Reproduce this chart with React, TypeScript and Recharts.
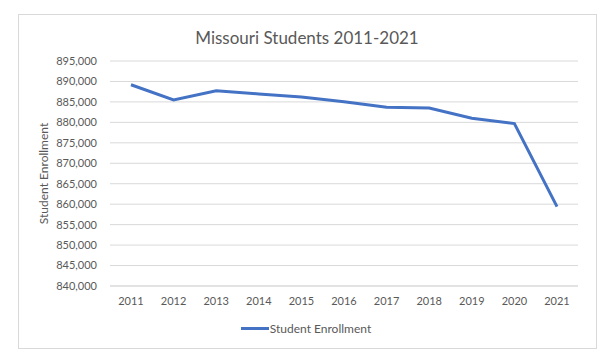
import { LineChart, Line, XAxis, YAxis, CartesianGrid, Legend } from 'recharts'

const years = ['2011', '2012', '2013', '2014', '2015', '2016', '2017', '2018', '2019', '2020', '2021']
const enrollment = [889200, 885500, 887750, 886950, 886200, 885050, 883700, 883500, 881000, 879700, 859400]
const yTicks = [840000, 845000, 850000, 855000, 860000, 865000, 870000, 875000, 880000, 885000, 890000, 895000]

const data = years.map((year, i) => ({ year, value: enrollment[i] }))

const FONT = 'Lato, "Open Sans", sans-serif'
const TEXT = '#595959'
const BLUE = '#4472C4'

function YLabel({ viewBox }: any) {
  const cy = viewBox.y + viewBox.height / 2
  return (
    <text
      x={43}
      y={cy}
      transform={`rotate(-90, 43, ${cy})`}
      textAnchor="middle"
      dominantBaseline="central"
      fill={TEXT}
      fontSize={12}
      fontFamily={FONT}
    >
      Student Enrollment
    </text>
  )
}

function LegendContent() {
  return (
    <div style={{ display: 'flex', justifyContent: 'center', alignItems: 'center', height: 20 }}>
      <span style={{ display: 'inline-block', width: 28, height: 3, background: BLUE }} />
      <span style={{ fontFamily: FONT, fontSize: 12, color: TEXT, marginLeft: 1 }}>Student Enrollment</span>
    </div>
  )
}

export default function App() {
  return (
    <div style={{ position: 'absolute', left: 0, top: 0, width: 612, height: 359, background: '#fff' }}>
      <div
        style={{
          position: 'absolute',
          left: 18,
          top: 14,
          width: 577,
          height: 333,
          border: '1px solid #d9d9d9',
        }}
      />
      <div
        style={{
          position: 'absolute',
          top: 26,
          left: 0,
          width: 614,
          textAlign: 'center',
          fontFamily: FONT,
          fontSize: 17,
          color: TEXT,
          lineHeight: '24px',
        }}
      >
        Missouri Students 2011-2021
      </div>
      <LineChart
        width={612}
        height={359}
        data={data}
        margin={{ top: 61, right: 34, bottom: 21, left: 0 }}
        style={{ position: 'absolute', left: 0, top: 0 }}
      >
        <CartesianGrid vertical={false} stroke="#d9d9d9" />
        <XAxis
          dataKey="year"
          height={32}
          padding={{ left: 21, right: 21 }}
          tickLine={false}
          axisLine={{ stroke: '#d9d9d9' }}
          tickMargin={5}
          tick={{ fill: TEXT, fontSize: 11, fontFamily: FONT }}
        />
        <YAxis
          width={110}
          domain={[840000, 895000]}
          ticks={yTicks}
          interval={0}
          axisLine={false}
          tickLine={false}
          tickMargin={7}
          tick={{ fill: TEXT, fontSize: 11, fontFamily: FONT }}
          tickFormatter={(v: number) => v.toLocaleString('en-US')}
          label={<YLabel />}
        />
        <Legend
          verticalAlign="bottom"
          content={<LegendContent />}
          wrapperStyle={{ left: 0, width: 612 }}
        />
        <Line
          type="linear"
          dataKey="value"
          stroke={BLUE}
          strokeWidth={3}
          dot={false}
          isAnimationActive={false}
        />
      </LineChart>
    </div>
  )
}
